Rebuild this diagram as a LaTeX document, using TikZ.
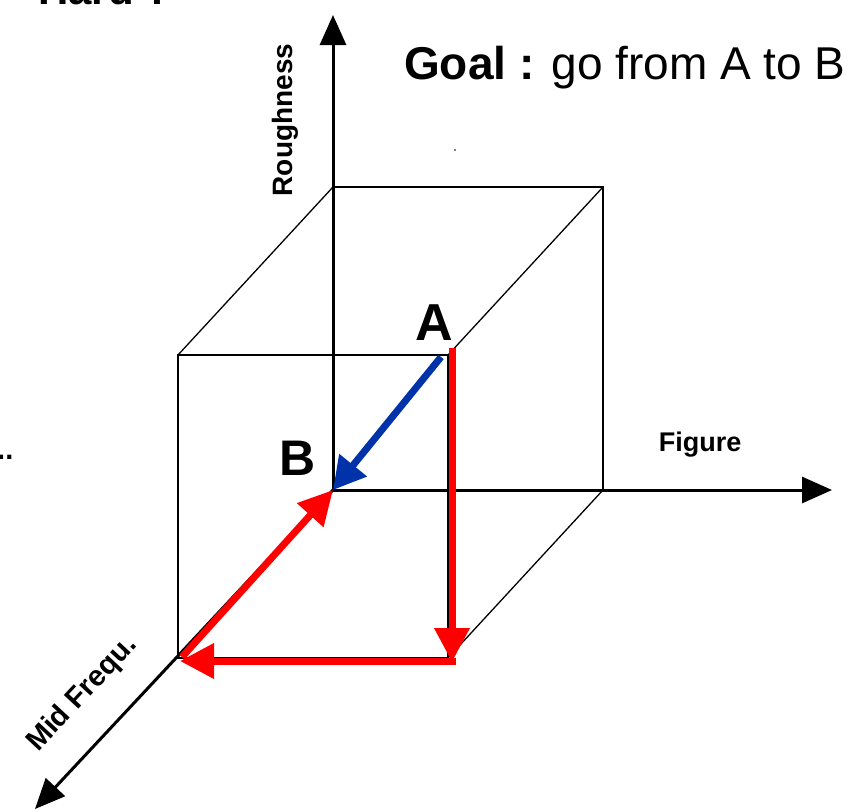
\documentclass[tikz,border=0pt]{standalone}
\usepackage{fontspec}
\setmainfont{Liberation Sans}
\usetikzlibrary{arrows.meta}
\definecolor{redarr}{RGB}{255,0,0}
\definecolor{bluearr}{RGB}{0,51,170}
\begin{document}
\begin{tikzpicture}[x=1pt,y=-1pt,
  edge/.style={line width=1.3pt,black},
  axisline/.style={line width=3pt,black,-{Triangle[length=30pt,width=26pt]}},
  redarrow/.style={line width=7pt,redarr,-{Triangle[length=34pt,width=34pt]}},
  bluearrow/.style={line width=7pt,bluearr,-{Triangle[length=32pt,width=34pt]}},
  lbl/.style={inner sep=0pt,anchor=base,text=black},
  fs/.style={font=\fontsize{#1}{#1}\selectfont},
]
\clip (0,0) rectangle (860,811);
\fill[white] (0,0) rectangle (860,811);
% coordinates
\coordinate (O) at (333,490);
\coordinate (T) at (333,15);
\coordinate (X) at (832,490);
\coordinate (M) at (35,809);
\coordinate (b1) at (333,187);
\coordinate (b2) at (603,187);
\coordinate (b3) at (603,490);
\coordinate (f1) at (178,355);
\coordinate (f2) at (448,355);
\coordinate (f3) at (448,658);
\coordinate (f4) at (178,658);
% cube edges
\draw[edge] (b1) -- (b2) -- (b3);
\draw[edge] (b1) -- (f1);
\draw[edge] (b2) -- (f2);
\draw[edge] (b3) -- (f3);
\draw[edge] (f2) -- (f1) -- (f4) -- (f3) -- cycle;
% axes
\draw[axisline] (O) -- (T);
\draw[axisline] (O) -- (X);
\draw[axisline] (O) -- (M);
% path arrows
\coordinate (Astart) at (452,348);
\coordinate (Rv) at (452,662);
\coordinate (Rc) at (455.5,661);
\coordinate (Lc) at (180,661);
\coordinate (Ld) at (182,657);
\coordinate (Bs) at (441,357);
\draw[redarrow] (Astart) -- (Rv);
\draw[redarrow] (Rc) -- (Lc);
\draw[redarrow] (Ld) -- (O);
\draw[bluearrow] (Bs) -- (O);
% labels
\node[lbl,anchor=base west,fs=46] (goal) at (404,79) {\textbf{Goal :} go from A to B};
\node[lbl,fs=28,rotate=90] (rough) at (292,120) {\textbf{Roughness}};
\node[lbl,fs=27] (fig) at (700,451) {\textbf{Figure}};
\node[lbl,fs=29,rotate=47] (mid) at (88,699) {\textbf{Mid Frequ.}};
\node[lbl,fs=52] (A) at (434,340) {\textbf{A}};
\node[lbl,fs=50] (B) at (298,475) {\textbf{B}};
\node[lbl,anchor=base west,fs=42] (hard) at (38,5) {\textbf{Hard ?}};
\node[lbl,anchor=base west,fs=29] (dots) at (-3,459) {\textbf{..}};
\fill[black] (455,150) circle (0.8);
\end{tikzpicture}
\end{document}
